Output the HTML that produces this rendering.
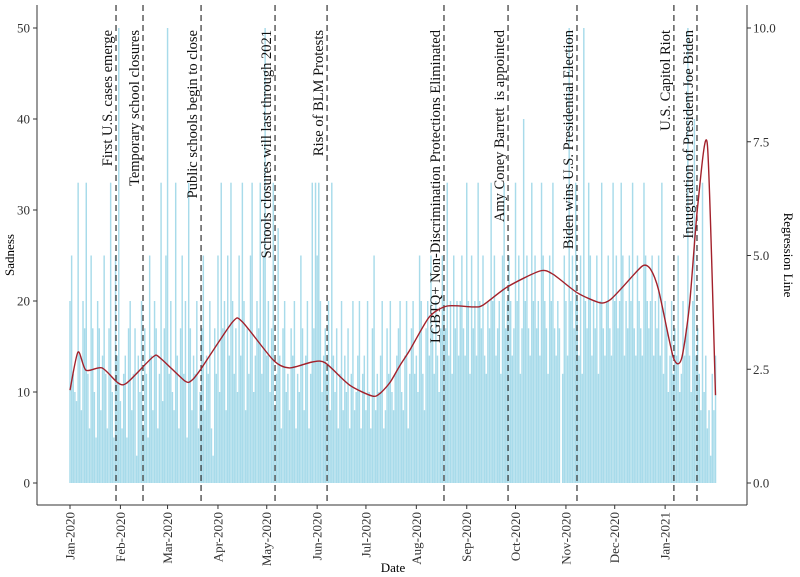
<!DOCTYPE html>
<html><head><meta charset="utf-8">
<style>
html,body{margin:0;padding:0;background:#fff;}
svg{display:block;font-family:"Liberation Serif",serif;}
</style></head>
<body>
<svg id="chart" width="800" height="577" viewBox="0 0 800 577">
  <g id="bars"></g>
  <g id="events"></g>
  <path id="reg" fill="none" stroke="#a3212b" stroke-width="1.4"/>
  <g id="axes"></g>
  <text x="14" y="255" transform="rotate(-90 14 255)" text-anchor="middle" font-size="13">Sadness</text>
  <text x="784" y="255" transform="rotate(90 784 255)" text-anchor="middle" font-size="13">Regression Line</text>
  <text x="393" y="572" text-anchor="middle" font-size="13">Date</text>
</svg>
<script>
const sadness = [
20,25,12,10,9,33,14,8,20,17,33,12,6,25,17,10,5,20,17,8,14,25,12,6,17,33,10,5,25,14,
50,9,6,12,14,5,17,20,8,12,17,3,14,10,20,6,17,12,5,25,14,8,20,17,6,12,33,9,17,25,
50,12,20,10,8,33,14,6,17,25,12,20,5,33,17,8,14,12,20,6,10,17,25,8,14,12,20,6,3,17,
12,25,10,33,17,20,8,25,14,33,20,12,17,10,25,14,33,20,8,17,12,25,33,10,14,20,17,33,12,25,
50,14,20,10,17,33,8,12,28,14,6,17,20,10,12,8,17,14,20,6,12,10,25,17,8,14,20,6,12,33,
17,33,25,33,20,10,14,17,12,20,8,33,14,10,17,6,12,20,8,14,10,17,6,12,20,8,10,14,20,6,
12,14,8,20,10,6,17,25,8,12,10,14,20,6,8,17,12,20,10,8,12,14,17,20,10,8,14,20,6,12,
17,20,12,14,10,25,20,12,8,17,20,14,25,17,12,20,14,10,17,25,20,17,33,14,20,12,25,17,20,14,
20,25,17,14,33,20,12,25,17,20,14,33,20,17,25,14,12,20,17,33,20,25,14,17,20,12,25,33,17,20,
25,20,14,17,33,20,25,12,17,40,20,25,17,14,33,20,25,17,20,14,33,25,20,17,12,25,20,33,17,14,
20,17,0,12,25,20,14,50,20,25,17,33,20,14,25,12,50,20,17,33,25,14,20,17,25,12,20,33,17,14,
20,25,17,14,33,20,25,17,20,33,25,14,20,17,25,20,33,17,14,25,20,17,14,33,25,20,17,20,25,14,
20,17,25,14,33,12,20,17,10,14,20,12,17,14,25,10,12,20,14,17,50,14,10,20,40,14,17,12,8,33,
10,14,6,8,3,12,8,14];
const regDays = [0,4.9,9.8,19.7,29.5,35,51,55.4,70.7,75,80,100,106,125,135,149,157,172,186,191,197,203,209,221,232,248,254,269,289,297,312,326,332,340,352,357,362,371,376,381,386,392,397];
const regVals = [2.04,2.88,2.48,2.53,2.2,2.2,2.77,2.75,2.24,2.26,2.48,3.54,3.54,2.7,2.53,2.66,2.64,2.15,1.91,1.98,2.22,2.59,2.92,3.65,3.89,3.87,3.91,4.31,4.66,4.59,4.18,3.96,4.02,4.31,4.77,4.7,4.24,2.77,2.72,3.91,6.07,7.43,1.93];
const eventDays = [28.3,44.9,80.6,126.1,158.1,230,269.4,311.8,371.4,385.6];
const eventLabels = ["First U.S. cases emerge","Temporary school closures","Public schools begin to close","Schools closures will last through 2021","Rise of BLM Protests","LGBTQ+ Non-Discrimination Protections Eliminated","Amy Coney Barrett\u00a0 is appointed","Biden wins U.S. Presidential Election","U.S. Capitol Riot","Inauguration of President Joe Biden"];
const xTickDays = [0,31,60,91,121,152,182,213,244,274,305,335,366];
const xTickLabels = ["Jan-2020","Feb-2020","Mar-2020","Apr-2020","May-2020","Jun-2020","Jul-2020","Aug-2020","Sep-2020","Oct-2020","Nov-2020","Dec-2020","Jan-2021"];
const yTicks = [0,10,20,30,40,50];
const y2Ticks = [0,2.5,5,7.5,10];
const y2TickLabels = ["0.0","2.5","5.0","7.5","10.0"];

const NS="http://www.w3.org/2000/svg";
const X = d => 70 + d*1.626;
const Y = v => 483 - v*9.1;
const Y2 = v => 483 - v*45.5;
function mk(tag, attrs, parent){const e=document.createElementNS(NS,tag);for(const k in attrs)e.setAttribute(k,attrs[k]);parent.appendChild(e);return e;}

const gb=document.getElementById('bars');
sadness.forEach((v,i)=>{
  const r=mk('rect',{x:(X(i)-0.72).toFixed(2),y:Y(v).toFixed(2),width:1.45,height:(483-Y(v)).toFixed(2),fill:'#a8dbea'},gb);
  
  
});

const ge=document.getElementById('events');
eventDays.forEach((d,i)=>{
  const x=X(d);
  const l=mk('line',{x1:x,x2:x,y1:5,y2:505,stroke:'#333',"stroke-width":1.2,"stroke-dasharray":"6,4"},ge);
  
  
  const t=mk('text',{x:x-4,y:30,transform:`rotate(-90 ${x-4} 30)`,"text-anchor":"end","font-size":"14.5",fill:'#111'},ge);
  t.textContent=eventLabels[i];
  
  
});

// smooth regression path (Catmull-Rom, mild tension)
const P=regDays.map((d,i)=>[X(d),Y2(regVals[i])]);
let dstr=`M${P[0][0]},${P[0][1]}`;
for(let i=0;i<P.length-1;i++){
  const p0=P[i-1]||P[i],p1=P[i],p2=P[i+1],p3=P[i+2]||P[i+1];
  const k=8;
  const c1=[p1[0]+(p2[0]-p0[0])/k,p1[1]+(p2[1]-p0[1])/k];
  const c2=[p2[0]-(p3[0]-p1[0])/k,p2[1]-(p3[1]-p1[1])/k];
  dstr+=` C${c1[0].toFixed(1)},${c1[1].toFixed(1)} ${c2[0].toFixed(1)},${c2[1].toFixed(1)} ${p2[0].toFixed(1)},${p2[1].toFixed(1)}`;
}
document.getElementById('reg').setAttribute('d',dstr);

const ga=document.getElementById('axes');
mk('line',{x1:37,x2:37,y1:5,y2:505,stroke:'#333',"stroke-width":1},ga);
mk('line',{x1:747,x2:747,y1:5,y2:505,stroke:'#333',"stroke-width":1},ga);
mk('line',{x1:37,x2:747,y1:505,y2:505,stroke:'#333',"stroke-width":1},ga);
yTicks.forEach(v=>{
  mk('line',{x1:33,x2:37,y1:Y(v),y2:Y(v),stroke:'#333'},ga);
  const t=mk('text',{x:30,y:Y(v)+4.5,"text-anchor":"end","font-size":"13",fill:'#333'},ga);
  t.textContent=v;
  
  
});
y2Ticks.forEach((v,i)=>{
  mk('line',{x1:747,x2:751,y1:Y2(v),y2:Y2(v),stroke:'#333'},ga);
  const t=mk('text',{x:753,y:Y2(v)+4.5,"text-anchor":"start","font-size":"13",fill:'#333'},ga);
  t.textContent=y2TickLabels[i];
  
  
});
xTickDays.forEach((d,i)=>{
  const x=X(d);
  mk('line',{x1:x,x2:x,y1:505,y2:509,stroke:'#333'},ga);
  const t=mk('text',{x:x+4.5,y:512,transform:`rotate(-90 ${x+4.5} 512)`,"text-anchor":"end","font-size":"13",fill:'#333'},ga);
  t.textContent=xTickLabels[i];
  
  
});
</script>
</body></html>
